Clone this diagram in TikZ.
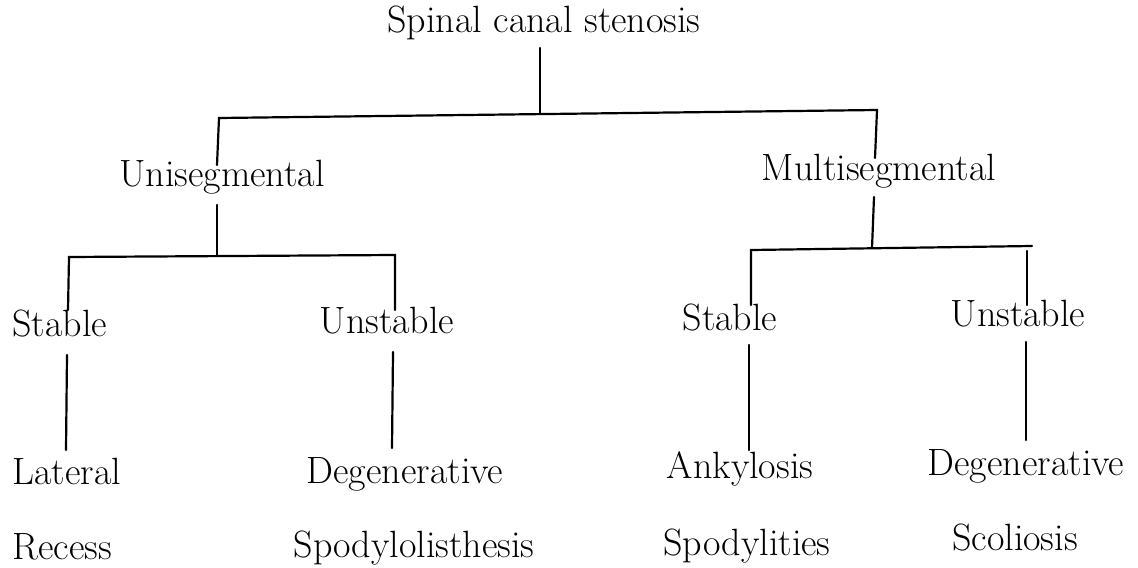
\documentclass[tikz,border=0pt]{standalone}
\begin{document}
\begin{tikzpicture}[x=0.5pt,y=-0.5pt,
  lbl/.style={inner sep=0pt,anchor=base,font=\fontsize{19}{23}\selectfont},
  conn/.style={line width=1.1pt,line cap=round}]
\useasboundingbox (0,0) rectangle (1138,567);
% texts
\node[lbl] (root) at (544,33) {Spinal canal stenosis};
\node[lbl] (uni) at (222,186) {Unisegmental};
\node[lbl] (multi) at (879,180) {Multisegmental};
\node[lbl,anchor=base west] (stL) at (12,336) {Stable};
\node[lbl] (unL) at (387,333) {Unstable};
\node[lbl] (stR) at (730,330) {Stable};
\node[lbl] (unR) at (1018,326) {Unstable};
\node[lbl,anchor=base west] (latL) at (12,484) {Lateral};
\node[lbl,anchor=base west] (recL) at (12,559) {Recess};
\node[lbl] (degL) at (405,483) {Degenerative};
\node[lbl] (spoL) at (414,557) {Spodylolisthesis};
\node[lbl] (ank) at (740,478) {Ankylosis};
\node[lbl] (spoR) at (747,555) {Spodylities};
\node[lbl] (degR) at (1026,475) {Degenerative};
\node[lbl] (sco) at (1015,550) {Scoliosis};
% junction coordinates
\coordinate (r1) at (540,48);
\coordinate (r2) at (540,114);
\coordinate (a1) at (219,118);
\coordinate (a2) at (877,110);
\coordinate (a1e) at (217,165);
\coordinate (a2e) at (875,158);
\coordinate (u1) at (217,205);
\coordinate (u2) at (217,256);
\coordinate (b1) at (69,257);
\coordinate (b2) at (395,255);
\coordinate (b1e) at (68,310);
\coordinate (b2e) at (395,310);
\coordinate (s1) at (67,355);
\coordinate (s1e) at (66,450);
\coordinate (s2) at (393,352);
\coordinate (s2e) at (392,448);
\coordinate (m1) at (874,197);
\coordinate (m2) at (872,248);
\coordinate (c1) at (751,250);
\coordinate (c2) at (1032,246);
\coordinate (c2t) at (1027,251);
\coordinate (c1e) at (751,305);
\coordinate (c2e) at (1027,305);
\coordinate (t1) at (749,345);
\coordinate (t1e) at (749,450);
\coordinate (t2) at (1026,342);
\coordinate (t2e) at (1026,440);
% connectors
\draw[conn] (r1) -- (r2);
\draw[conn] (a1e) -- (a1) -- (a2) -- (a2e);
\draw[conn] (u1) -- (u2);
\draw[conn] (b1e) -- (b1) -- (b2) -- (b2e);
\draw[conn] (s1) -- (s1e);
\draw[conn] (s2) -- (s2e);
\draw[conn] (m1) -- (m2);
\draw[conn] (c1e) -- (c1) -- (c2);
\draw[conn] (c2t) -- (c2e);
\draw[conn] (t1) -- (t1e);
\draw[conn] (t2) -- (t2e);
\end{tikzpicture}
\end{document}
